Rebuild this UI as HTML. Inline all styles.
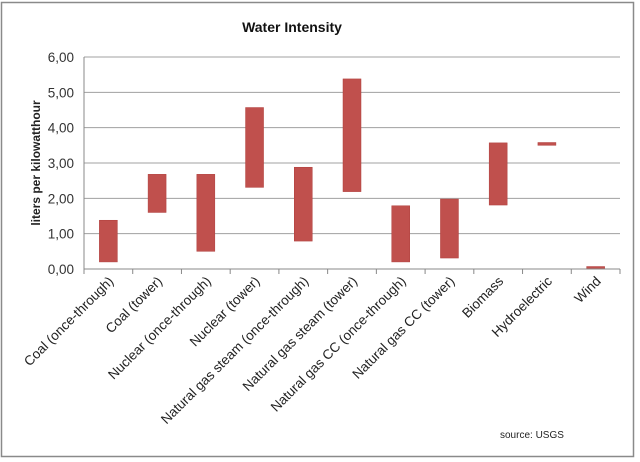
<!DOCTYPE html>
<html><head><meta charset="utf-8"><style>
body{margin:0;background:#fff}
svg{display:block;font-family:"Liberation Sans",sans-serif}
</style></head><body>
<svg id="chart" width="640" height="462" viewBox="0 0 640 462">
<rect x="1.5" y="2.5" width="632" height="454" fill="#fff" stroke="#8a8a8a" stroke-width="1.5"/>
<text x="292" y="32" text-anchor="middle" font-size="14" font-weight="bold" fill="#111">Water Intensity</text>
<text transform="translate(40,163) rotate(-90)" text-anchor="middle" font-size="12" font-weight="bold" fill="#222">liters per kilowatthour</text>
<text x="500" y="438" font-size="10" fill="#222">source: USGS</text>
<g id="grid"></g><g id="bars"></g><g id="axes"></g>
</svg>
<script>
const categories=["Coal (once-through)","Coal (tower)","Nuclear (once-through)","Nuclear (tower)","Natural gas steam (once-through)","Natural gas steam (tower)","Natural gas CC (once-through)","Natural gas CC (tower)","Biomass","Hydroelectric","Wind"];
const lowValues=[0.2,1.6,0.5,2.31,0.79,2.19,0.2,0.31,1.81,3.5,0.0];
const highValues=[1.38,2.68,2.68,4.57,2.88,5.38,1.79,1.98,3.57,3.58,0.07];
const yTicks=[0,1,2,3,4,5,6];
const yTickLabels=["0,00","1,00","2,00","3,00","4,00","5,00","6,00"];
const NS="http://www.w3.org/2000/svg";
const X0=84,X1=620,Y0=269,Y1=57,YMAX=6;
const bw=(X1-X0)/categories.length;
const xs=i=>X0+bw*(i+0.5);
const ys=v=>Y0-(v/YMAX)*(Y0-Y1);
function mk(tag,attrs,parent){const e=document.createElementNS(NS,tag);for(const k in attrs)e.setAttribute(k,attrs[k]);parent.appendChild(e);return e;}
const grid=document.getElementById('grid'),bars=document.getElementById('bars'),axes=document.getElementById('axes');
yTicks.forEach((t,i)=>{
  const l=mk('line',{x1:X0,x2:X1,y1:ys(t),y2:ys(t),stroke:'#a0a0a0','stroke-width':1},grid);
  
  
  const tx=mk('text',{x:X0-10,y:ys(t)+5,'text-anchor':'end','font-size':13.5,fill:'#333'},axes);
  tx.textContent=yTickLabels[i];
  
  
});
const ya=mk('line',{x1:X0,x2:X0,y1:Y1,y2:Y0,stroke:'#888'},axes);


const xa=mk('line',{x1:X0,x2:X1,y1:Y0,y2:Y0,stroke:'#888'},axes);


for(let i=0;i<=categories.length;i++){
  const tk=mk('line',{x1:X0+bw*i,x2:X0+bw*i,y1:Y0,y2:Y0+5,stroke:'#888'},axes);
  
  
}
categories.forEach((c,i)=>{
  const w=18;
  const r=mk('rect',{x:xs(i)-w/2,y:ys(highValues[i]),width:w,height:Math.max(ys(lowValues[i])-ys(highValues[i]),2),fill:'#c0504d',stroke:'#b03f3c','stroke-width':0.5},bars);
  
  
  const t=mk('text',{transform:`translate(${xs(i)+6},${Y0+13}) rotate(-45)`,'text-anchor':'end','font-size':13.5,fill:'#222'},axes);
  t.textContent=c;
  
  
});
</script>
</body></html>
